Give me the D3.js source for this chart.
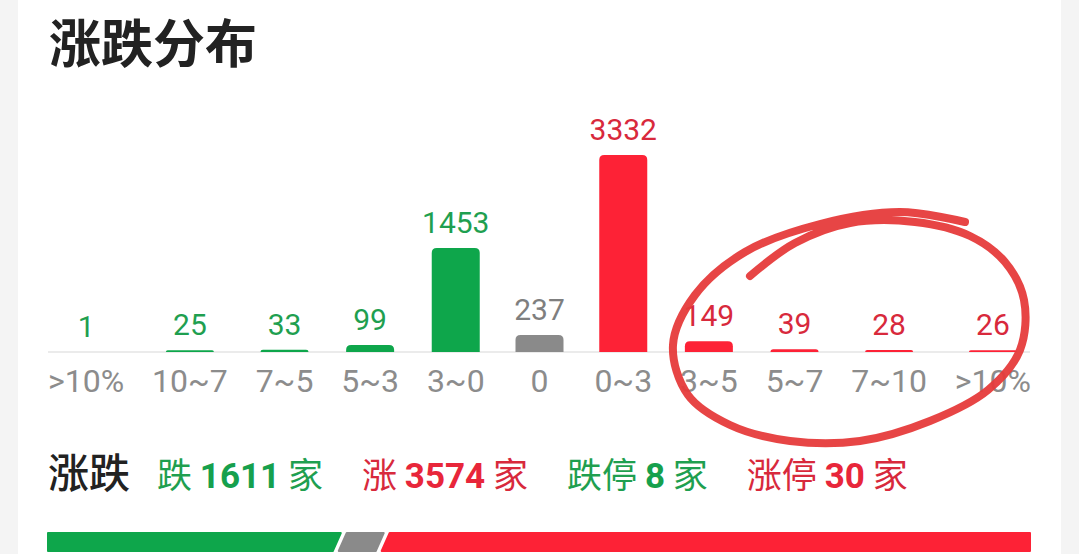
<!DOCTYPE html>
<html><head><meta charset="utf-8">
<script src="https://cdn.jsdelivr.net/npm/d3@7"></script>
<style>html,body{margin:0;padding:0;background:#f4f4f4;}svg{display:block;}</style>
</head><body>
<svg id="chart" width="1079" height="554"></svg>
<script>
// ---- data ----
const categories = [">10%", "10~7", "7~5", "5~3", "3~0", "0", "0~3", "3~5", "5~7", "7~10", ">10%"];
const counts     = [1, 25, 33, 99, 1453, 237, 3332, 149, 39, 28, 26];
const direction  = ["down","down","down","down","down","flat","up","up","up","up","up"];
const summaryParts = [
  {pre: "跌", num: "1611", post: "家", dir: "down"},
  {pre: "涨", num: "3574", post: "家", dir: "up"},
  {pre: "跌停", num: "8", post: "家", dir: "down"},
  {pre: "涨停", num: "30", post: "家", dir: "up"}
];
const ratioLabels = ["down", "flat", "up"];
const ratioValues = [1611, 237, 3574];
const annotationLoop = [[965,222],[900,212],[820,224],[745,252],[695,295],[673,345],[688,395],[730,425],[790,441],[860,441],[930,421],[988,390],[1020,350],[1024,300],[1005,262],[970,236],[915,222],[850,223],[795,243],[750,276]];

const barColor  = {down: "#0ea64b", flat: "#8a8a8a", up: "#fd2236"};
const textColor = {down: "#1f9f50", flat: "#7f7f7f", up: "#d8293c"};

const svg = d3.select("#chart");
const W = 1079, H = 554;
// card
svg.append("rect").attr("x", 18).attr("y", 0).attr("width", 1043).attr("height", H).attr("fill", "#ffffff");

// title
svg.append("text").attr("x", 49).attr("y", 63)
  .attr("font-family", "'Noto Sans CJK SC', sans-serif").attr("font-weight", 700)
  .attr("font-size", 52).attr("fill", "#222").text("涨跌分布");

const left = 48, right = 1031, baseY = 352;

// axis labels -> measure widths for flex-like space-between layout
const labelFont = "Roboto, 'Noto Sans', sans-serif";
const axisG = svg.append("g");
const axisTexts = axisG.selectAll("text").data(categories).join("text")
  .attr("font-family", labelFont).attr("font-size", 32).attr("fill", "#8c8c8c")
  .attr("text-anchor", "middle").attr("y", 392).text(d => d);
const widths = [];
axisTexts.each(function(){ widths.push(Math.max(this.getComputedTextLength(), 54)); });
const gap = (right - left - d3.sum(widths)) / (categories.length - 1);
const centers = [];
let cx = left;
widths.forEach(w => { centers.push(cx + w/2); cx += w + gap; });
const x = d3.scaleOrdinal().domain(d3.range(categories.length)).range(centers);
axisTexts.attr("x", (d, i) => x(i));

// y scale (tallest bar is capped in the source chart)
const y = d3.scaleLinear().domain([0, 2750]).range([0, 197]).clamp(true);
const barW = 48, r = 5;

// baseline
svg.insert("line", "g").attr("x1", left).attr("x2", right - 1).attr("y1", baseY).attr("y2", baseY)
  .attr("stroke", "#ebebeb").attr("stroke-width", 2);

function barPath(x0, h, w) {
  const top = baseY - h, rr = Math.min(r, h);
  return `M${x0},${baseY} L${x0},${top + rr} Q${x0},${top} ${x0 + rr},${top} L${x0 + w - rr},${top} Q${x0 + w},${top} ${x0 + w},${top + rr} L${x0 + w},${baseY} Z`;
}
const barsG = svg.append("g");
barsG.selectAll("path").data(counts).join("path")
  .attr("d", (d, i) => barPath(x(i) - barW/2, y(d), barW))
  .attr("fill", (d, i) => barColor[direction[i]]);

svg.append("g").selectAll("text").data(counts).join("text")
  .attr("x", (d, i) => x(i)).attr("y", d => baseY - y(d) - 15)
  .attr("text-anchor", "middle").attr("font-family", labelFont).attr("font-size", 30)
  .attr("fill", (d, i) => textColor[direction[i]]).text(d => d);

// summary row
const sumY = 488;
const t0 = svg.append("text").attr("x", 48).attr("y", sumY)
  .attr("font-family", "'Noto Sans CJK SC', sans-serif").attr("font-weight", 500)
  .attr("font-size", 41).attr("fill", "#222").text("涨跌");
let sx = 48 + t0.node().getComputedTextLength() + 27;
summaryParts.forEach(p => {
  const t = svg.append("text").attr("x", sx).attr("y", sumY).attr("font-size", 35)
    .attr("fill", textColor[p.dir]);
  t.append("tspan").attr("font-family", "'Noto Sans CJK SC', sans-serif").text(p.pre + " ");
  t.append("tspan").attr("font-family", "Roboto, sans-serif").attr("font-weight", 700)
    .attr("fill", p.dir === "up" ? "#e8263a" : "#16a04d").text(p.num);
  t.append("tspan").attr("font-family", "'Noto Sans CJK SC', sans-serif").text(" " + p.post);
  sx += t.node().getComputedTextLength() + 39;
});

// ratio bar
const rb = {y: 533, h: 18, skew: 8, gap: 6};
const cum = d3.cumsum(ratioValues);
const rx = d3.scaleLinear().domain([0, d3.sum(ratioValues)]).range([left, right - 1]);
const rbG = svg.append("g");
ratioValues.forEach((v, i) => {
  const last = i === ratioValues.length - 1;
  const a = i === 0 ? rx(0) : rx(cum[i-1]) + rb.gap/2;
  const b = last ? rx(cum[i]) : rx(cum[i]) - rb.gap/2;
  const t = rb.y, btm = rb.y + rb.h, s = rb.skew / 2;
  const lTop = i === 0 ? a : a + s, lBot = i === 0 ? a : a - s;
  const rTop = last ? b : b + s, rBot = last ? b : b - s;
  rbG.append("path").attr("d", `M${lTop},${t} L${rTop},${t} L${rBot},${btm} L${lBot},${btm} Z`)
    .attr("fill", barColor[ratioLabels[i]]).attr("stroke", barColor[ratioLabels[i]])
    .attr("stroke-width", 2).attr("stroke-linejoin", "round");
});

// hand-drawn annotation loop
svg.append("path").datum(annotationLoop)
  .attr("d", d3.line().curve(d3.curveCatmullRom.alpha(0.5)))
  .attr("fill", "none").attr("stroke", "#e63b3b").attr("stroke-width", 8)
  .attr("stroke-linecap", "round").attr("stroke-linejoin", "round").attr("opacity", 0.95);
</script>
</body></html>
